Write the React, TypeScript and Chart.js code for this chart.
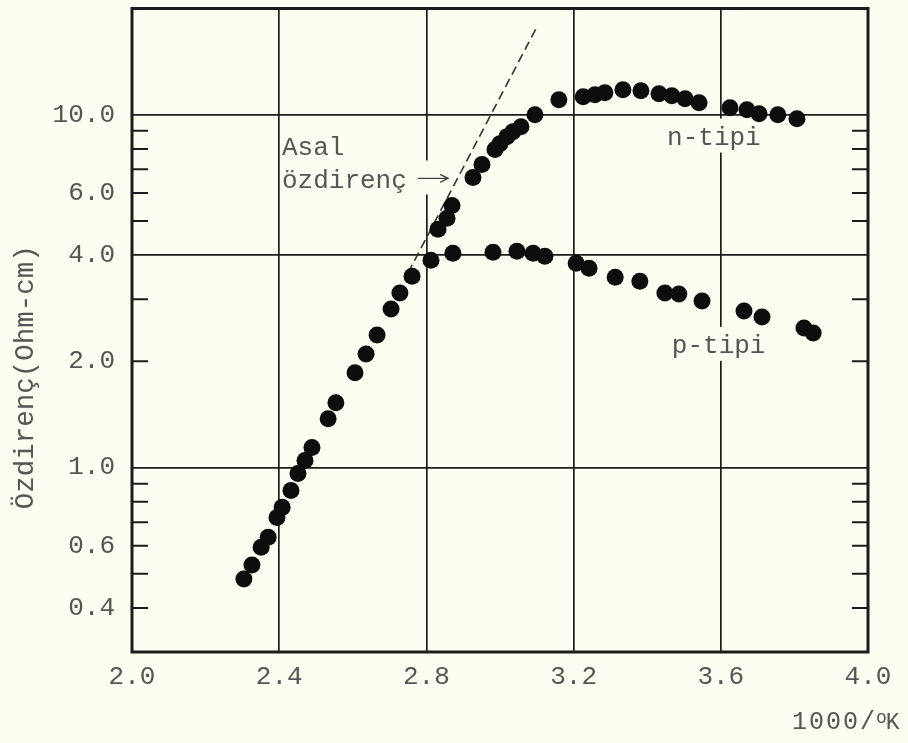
import React, { useEffect, useRef } from "react";
import { Chart, registerables } from "chart.js";

Chart.register(...registerables);

// ---- Data ----
const commonX = [2.304, 2.326, 2.351, 2.370, 2.394, 2.408, 2.432, 2.451, 2.470, 2.489, 2.533, 2.554, 2.606, 2.636, 2.666, 2.704, 2.728, 2.761];
const commonY = [0.483, 0.529, 0.594, 0.634, 0.722, 0.771, 0.861, 0.962, 1.047, 1.139, 1.375, 1.526, 1.855, 2.099, 2.376, 2.812, 3.122, 3.487];

const pTypeX = [2.8125, 2.872, 2.981, 3.046, 3.090, 3.122, 3.207, 3.242, 3.313, 3.380, 3.448, 3.486, 3.549, 3.663, 3.712, 3.826, 3.851];
const pTypeY = [3.869, 4.049, 4.075, 4.10, 4.049, 3.971, 3.794, 3.673, 3.464, 3.375, 3.122, 3.101, 2.963, 2.777, 2.671, 2.486, 2.406];

const nTypeX = [2.8315, 2.856, 2.8696, 2.9266, 2.951, 2.9864, 3.000, 3.019, 3.035, 3.057, 3.095, 3.160, 3.226, 3.258, 3.285, 3.334, 3.383, 3.432, 3.467, 3.503, 3.541, 3.625, 3.671, 3.704, 3.755, 3.807];
const nTypeY = [4.733, 5.084, 5.533, 6.637, 7.224, 7.963, 8.28, 8.667, 8.954, 9.25, 10.0, 11.03, 11.24, 11.39, 11.54, 11.77, 11.69, 11.47, 11.32, 11.10, 10.81, 10.47, 10.33, 10.06, 10.0, 9.74];

const intrinsicX = [2.750, 3.103];
const intrinsicY = [3.56, 17.96];

const xTickValues = [2.0, 2.4, 2.8, 3.2, 3.6, 4.0];
const yTickValues = [0.4, 0.6, 1, 2, 4, 6, 10];
const yGridValues = [1, 4, 10];
const yMinorTicks = [0.4, 0.5, 0.6, 0.7, 0.8, 0.9, 2, 3, 5, 6, 7, 8, 9];

const yTitle = "Özdirenç(Ohm-cm)";
const xTitleMain = "1000/";
const xTitleSup = "o";
const xTitleEnd = "K";

const labelAsal = "Asal";
const labelOzd = "özdirenç";
const labelN = "n-tipi";
const labelP = "p-tipi";
// annotation anchors in data coordinates [x, y]
const anchorAsal = [2.4076, 7.71];
const anchorOzd = [2.4076, 6.18];
const arrowFrom = [2.777, 6.6];
const arrowTo = [2.859, 6.6];
const anchorN = [3.454, 8.23];
const anchorP = [3.467, 2.113];

const BG = "#fdfdf1";
const INK = "#1c1c1c";
const TEXT = "#555555";
const FONT = '"Liberation Mono", "DejaVu Sans Mono", monospace';

function toPts(xs: number[], ys: number[]) {
  return xs.map((x, i) => ({ x, y: ys[i] }));
}

export default function App() {
  const ref = useRef<HTMLCanvasElement | null>(null);

  useEffect(() => {
    document.body.style.margin = "0";
    document.body.style.background = BG;
    const canvas = ref.current;
    if (!canvas) return;

    const decor = {
      id: "decor",
      beforeDraw(chart: any) {
        const { ctx, width, height } = chart;
        ctx.save();
        ctx.fillStyle = BG;
        ctx.fillRect(0, 0, width, height);
        ctx.restore();
      },
      beforeDatasetsDraw(chart: any) {
        const { ctx } = chart;
        const xs = chart.scales.x;
        const ys = chart.scales.y;
        const px = (v: number) => xs.getPixelForValue(v);
        const py = (v: number) => ys.getPixelForValue(v);
        ctx.save();
        ctx.font = "26px " + FONT;
        ctx.textBaseline = "alphabetic";
        ctx.textAlign = "left";

        const drawLabel = (text: string, a: number[], gap: boolean) => {
          const x = px(a[0]);
          const y = py(a[1]);
          const w = ctx.measureText(text).width;
          if (gap) {
            ctx.fillStyle = BG;
            ctx.fillRect(x - 2, y - 26, w + 4, 34);
          }
          ctx.fillStyle = TEXT;
          ctx.fillText(text, x, y);
        };
        drawLabel(labelAsal, anchorAsal, false);
        // gap for özdirenç + arrow
        {
          const x = px(anchorOzd[0]);
          const y = py(anchorOzd[1]);
          const x2 = px(arrowTo[0]);
          ctx.fillStyle = BG;
          ctx.fillRect(x, y - 28, x2 - x + 2, 34);
        }
        drawLabel(labelOzd, anchorOzd, false);
        drawLabel(labelN, anchorN, true);
        drawLabel(labelP, anchorP, true);

        // arrow
        const ax1 = px(arrowFrom[0]);
        const ax2 = px(arrowTo[0]);
        const ay = py(arrowFrom[1]);
        ctx.strokeStyle = "#444";
        ctx.lineWidth = 1.4;
        ctx.beginPath();
        ctx.moveTo(ax1, ay);
        ctx.lineTo(ax2, ay);
        ctx.moveTo(ax2 - 8, ay - 4);
        ctx.lineTo(ax2, ay);
        ctx.lineTo(ax2 - 8, ay + 4);
        ctx.stroke();
        ctx.restore();
      },
      afterDraw(chart: any) {
        const { ctx, chartArea } = chart;
        const ys = chart.scales.y;
        const { left, right, top, bottom } = chartArea;
        ctx.save();
        // minor ticks inward on both sides
        ctx.strokeStyle = INK;
        ctx.lineWidth = 2;
        ctx.beginPath();
        yMinorTicks.forEach((v) => {
          const y = ys.getPixelForValue(v);
          ctx.moveTo(left, y);
          ctx.lineTo(left + 16, y);
          ctx.moveTo(right, y);
          ctx.lineTo(right - 16, y);
        });
        ctx.stroke();
        // frame
        ctx.lineWidth = 3;
        ctx.strokeRect(left, top, right - left, bottom - top);

        // y title
        ctx.fillStyle = TEXT;
        ctx.font = "27.5px " + FONT;
        ctx.textAlign = "center";
        ctx.textBaseline = "alphabetic";
        ctx.save();
        ctx.translate(33, (top + bottom) / 2 + 47);
        ctx.rotate(-Math.PI / 2);
        ctx.fillText(yTitle, 0, 0);
        ctx.restore();

        // x title
        ctx.textAlign = "left";
        const bx = right - 76;
        const by = bottom + 77;
        ctx.font = "25px " + FONT;
        (ctx as any).letterSpacing = "2px";
        ctx.fillText(xTitleMain, bx, by);
        let w = ctx.measureText(xTitleMain).width;
        (ctx as any).letterSpacing = "0px";
        ctx.font = "18px " + FONT;
        ctx.fillText(xTitleSup, bx + w - 1, by - 6);
        const w2 = ctx.measureText(xTitleSup).width;
        ctx.font = "23px " + FONT;
        ctx.fillText(xTitleEnd, bx + w + w2 - 2, by);
        ctx.restore();
      },
    };

    const chart = new Chart(canvas, {
      type: "scatter",
      data: {
        datasets: [
          {
            label: "common",
            data: toPts(commonX, commonY),
            backgroundColor: "#0d0d0d",
            borderWidth: 0,
            pointRadius: 8.5,
          },
          {
            label: "p-tipi",
            data: toPts(pTypeX, pTypeY),
            backgroundColor: "#0d0d0d",
            borderWidth: 0,
            pointRadius: 8.5,
          },
          {
            label: "n-tipi",
            data: toPts(nTypeX, nTypeY),
            backgroundColor: "#0d0d0d",
            borderWidth: 0,
            pointRadius: 8.5,
          },
          {
            label: "Asal özdirenç",
            data: toPts(intrinsicX, intrinsicY),
            showLine: true,
            borderColor: "#333",
            borderWidth: 1.6,
            borderDash: [9, 5],
            pointRadius: 0,
            fill: false,
          } as any,
        ],
      },
      options: {
        animation: false,
        responsive: true,
        maintainAspectRatio: false,
        layout: { padding: { top: 4, right: 40, left: 0, bottom: 0 } },
        plugins: {
          legend: { display: false },
          tooltip: { enabled: false },
        },
        scales: {
          x: {
            type: "linear",
            min: 2.0,
            max: 4.0,
            afterBuildTicks: (scale: any) => {
              scale.ticks = xTickValues.map((v) => ({ value: v }));
            },
            afterFit: (scale: any) => {
              scale.height = 91;
              scale.paddingLeft = 0;
              scale.paddingRight = 0;
              scale.paddingTop = 0;
              scale.paddingBottom = 0;
            },
            ticks: {
              color: TEXT,
              font: { family: FONT, size: 26 },
              padding: 10,
              maxRotation: 0,
              autoSkip: false,
              callback: (v: any) => Number(v).toFixed(1),
            },
            grid: {
              color: INK,
              lineWidth: 1.7,
              drawTicks: false,
            },
            border: { display: false },
          },
          y: {
            type: "logarithmic",
            min: 0.3,
            max: 20,
            afterBuildTicks: (scale: any) => {
              scale.ticks = yTickValues.map((v) => ({ value: v }));
            },
            afterFit: (scale: any) => {
              scale.width = 132;
              scale.paddingLeft = 0;
              scale.paddingRight = 0;
              scale.paddingTop = 0;
              scale.paddingBottom = 0;
            },
            ticks: {
              color: TEXT,
              font: { family: FONT, size: 26 },
              padding: 17,
              autoSkip: false,
              callback: (v: any) => Number(v).toFixed(1),
            },
            grid: {
              color: (c: any) => (c.tick && yGridValues.includes(c.tick.value) ? INK : "rgba(0,0,0,0)"),
              lineWidth: 1.7,
              drawTicks: false,
            },
            border: { display: false },
          },
        },
      },
      plugins: [decor],
    });
    return () => chart.destroy();
  }, []);

  return (
    <div style={{ width: 908, height: 743, position: "relative", background: BG }}>
      <canvas ref={ref} />
    </div>
  );
}
